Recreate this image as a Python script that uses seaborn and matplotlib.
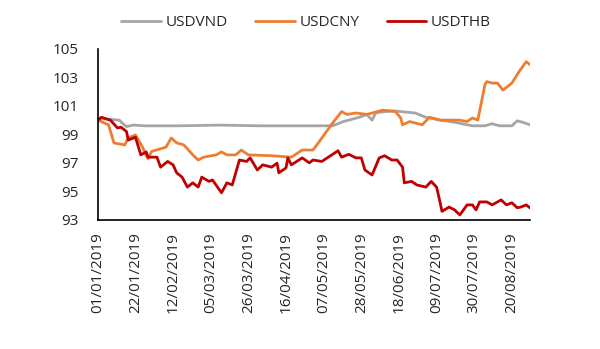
import numpy as np
import pandas as pd
import matplotlib
matplotlib.use("Agg")
import matplotlib.pyplot as plt
import seaborn as sns

# Exchange-rate indices (01/01/2019 = 100)
vnd_dates = ["2019-01-01", "2019-01-08", "2019-01-13", "2019-01-15", "2019-01-17", "2019-01-21",
             "2019-01-27", "2019-02-15", "2019-03-10", "2019-04-01", "2019-04-23", "2019-05-12",
             "2019-05-18", "2019-05-27", "2019-05-31", "2019-06-03", "2019-06-05", "2019-06-07",
             "2019-06-15", "2019-06-27", "2019-07-03", "2019-07-11", "2019-07-19", "2019-07-29",
             "2019-08-05", "2019-08-09", "2019-08-13", "2019-08-20", "2019-08-23", "2019-08-26",
             "2019-08-30"]
usdvnd = [100.1, 100.05, 100.0, 99.75, 99.55, 99.65, 99.6, 99.6, 99.65, 99.6, 99.6, 99.6,
          99.9, 100.2, 100.4, 100.0, 100.5, 100.55, 100.65, 100.5, 100.2, 100.0, 99.85, 99.6,
          99.6, 99.75, 99.6, 99.6, 99.95, 99.85, 99.67]

cny_dates = ["2019-01-01", "2019-01-07", "2019-01-10", "2019-01-16", "2019-01-18", "2019-01-22",
             "2019-01-26", "2019-01-28", "2019-01-29", "2019-01-31", "2019-02-04", "2019-02-08",
             "2019-02-11", "2019-02-14", "2019-02-18", "2019-02-23", "2019-02-26", "2019-03-01",
             "2019-03-08", "2019-03-11", "2019-03-14", "2019-03-19", "2019-03-22", "2019-03-26",
             "2019-04-08", "2019-04-19", "2019-04-25", "2019-05-01", "2019-05-04", "2019-05-08",
             "2019-05-12", "2019-05-17", "2019-05-20", "2019-05-25", "2019-05-31", "2019-06-09",
             "2019-06-16", "2019-06-19", "2019-06-20", "2019-06-24", "2019-07-01", "2019-07-05",
             "2019-07-11", "2019-07-22", "2019-07-26", "2019-07-29", "2019-08-01", "2019-08-05",
             "2019-08-06", "2019-08-09", "2019-08-12", "2019-08-15", "2019-08-20", "2019-08-24",
             "2019-08-28", "2019-08-30"]
usdcny = [100.0, 99.67, 98.4, 98.26, 98.75, 98.96, 98.1, 97.5, 97.3, 97.8, 97.95, 98.1,
          98.75, 98.4, 98.26, 97.56, 97.2, 97.4, 97.56, 97.77, 97.56, 97.56, 97.9, 97.56,
          97.5, 97.4, 97.9, 97.9, 98.4, 99.1, 99.8, 100.6, 100.4, 100.5, 100.4, 100.7,
          100.6, 100.15, 99.67, 99.9, 99.67, 100.2, 100.0, 100.0, 99.9, 100.15, 100.0, 102.5,
          102.7, 102.6, 102.6, 102.1, 102.6, 103.4, 104.1, 103.9]

thb_dates = ["2019-01-01", "2019-01-03", "2019-01-08", "2019-01-12", "2019-01-14", "2019-01-17",
             "2019-01-18", "2019-01-22", "2019-01-25", "2019-01-28", "2019-01-29", "2019-02-03",
             "2019-02-05", "2019-02-09", "2019-02-12", "2019-02-14", "2019-02-17", "2019-02-20",
             "2019-02-23", "2019-02-26", "2019-02-28", "2019-03-04", "2019-03-06", "2019-03-11",
             "2019-03-14", "2019-03-17", "2019-03-21", "2019-03-25", "2019-03-27", "2019-03-31",
             "2019-04-03", "2019-04-08", "2019-04-11", "2019-04-12", "2019-04-16", "2019-04-17",
             "2019-04-19", "2019-04-25", "2019-04-29", "2019-05-01", "2019-05-06", "2019-05-15",
             "2019-05-17", "2019-05-21", "2019-05-25", "2019-05-28", "2019-05-30", "2019-06-03",
             "2019-06-07", "2019-06-10", "2019-06-14", "2019-06-17", "2019-06-20", "2019-06-21",
             "2019-06-25", "2019-06-28", "2019-07-03", "2019-07-06", "2019-07-09", "2019-07-11",
             "2019-07-12", "2019-07-16", "2019-07-19", "2019-07-22", "2019-07-26", "2019-07-29",
             "2019-07-31", "2019-08-02", "2019-08-06", "2019-08-09", "2019-08-14", "2019-08-17",
             "2019-08-20", "2019-08-23", "2019-08-25", "2019-08-28", "2019-08-30"]
usdthb = [100.0, 100.2, 100.0, 99.45, 99.5, 99.2, 98.6, 98.8, 97.56, 97.77, 97.4, 97.4,
          96.7, 97.1, 96.86, 96.3, 96.0, 95.3, 95.6, 95.3, 96.0, 95.7, 95.8, 94.9,
          95.6, 95.45, 97.2, 97.1, 97.35, 96.5, 96.86, 96.7, 96.98, 96.3, 96.65, 97.35,
          96.86, 97.35, 97.0, 97.2, 97.1, 97.85, 97.4, 97.6, 97.35, 97.35, 96.5, 96.15,
          97.35, 97.5, 97.2, 97.2, 96.7, 95.6, 95.7, 95.45, 95.3, 95.7, 95.3, 94.2,
          93.6, 93.9, 93.7, 93.35, 94.05, 94.05, 93.7, 94.26, 94.26, 94.05, 94.4, 94.05,
          94.2, 93.85, 93.9, 94.05, 93.85]

series_names = ["USDVND", "USDCNY", "USDTHB"]
series_colors = ["#A5A5A5", "#ED7D31", "#C00000"]
y_ticks = [93, 95, 97, 99, 101, 103, 105]

frames = []
for name, d, v in zip(series_names, [vnd_dates, cny_dates, thb_dates], [usdvnd, usdcny, usdthb]):
    frames.append(pd.DataFrame({"date": pd.to_datetime(d), "value": v, "series": name}))
df = pd.concat(frames, ignore_index=True)

sns.set_style("white")
plt.rcParams["font.family"] = ["Open Sans", "DejaVu Sans"]

fig = plt.figure(figsize=(6.0, 3.49), dpi=100)
ax = fig.add_axes([0.163, 0.37, 0.72, 0.49])

sns.lineplot(data=df, x="date", y="value", hue="series", hue_order=series_names,
             palette=dict(zip(series_names, series_colors)), estimator=None,
             linewidth=2.0, ax=ax)

start = pd.Timestamp("2019-01-01")
ax.set_xlim(start, pd.Timestamp("2019-08-30"))
ax.set_ylim(93, 105)
ax.set_yticks(y_ticks)
ax.set_yticklabels([str(t) for t in y_ticks], fontsize=11)

x_ticks = pd.date_range(start, periods=12, freq="21D")
ax.set_xticks(x_ticks)
ax.set_xticklabels([t.strftime("%d/%m/%Y") for t in x_ticks], rotation=90, fontsize=11)

ax.set_xlabel("")
ax.set_ylabel("")
for side in ["top", "right"]:
    ax.spines[side].set_visible(False)
for side in ["left", "bottom"]:
    ax.spines[side].set_color("black")
    ax.spines[side].set_linewidth(1.2)
ax.tick_params(axis="y", which="major", direction="out", length=5, width=1, color="black", pad=9)
ax.tick_params(axis="x", which="major", length=0, pad=9)
ax.grid(False)

handles, labels = ax.get_legend_handles_labels()
ax.get_legend().remove()
fig.legend(handles, labels, loc="upper center", bbox_to_anchor=(0.51, 0.995), ncol=3,
           frameon=False, fontsize=11, handlelength=2.6, columnspacing=1.8, handletextpad=0.3)

fig.savefig("out.png", dpi=100)
